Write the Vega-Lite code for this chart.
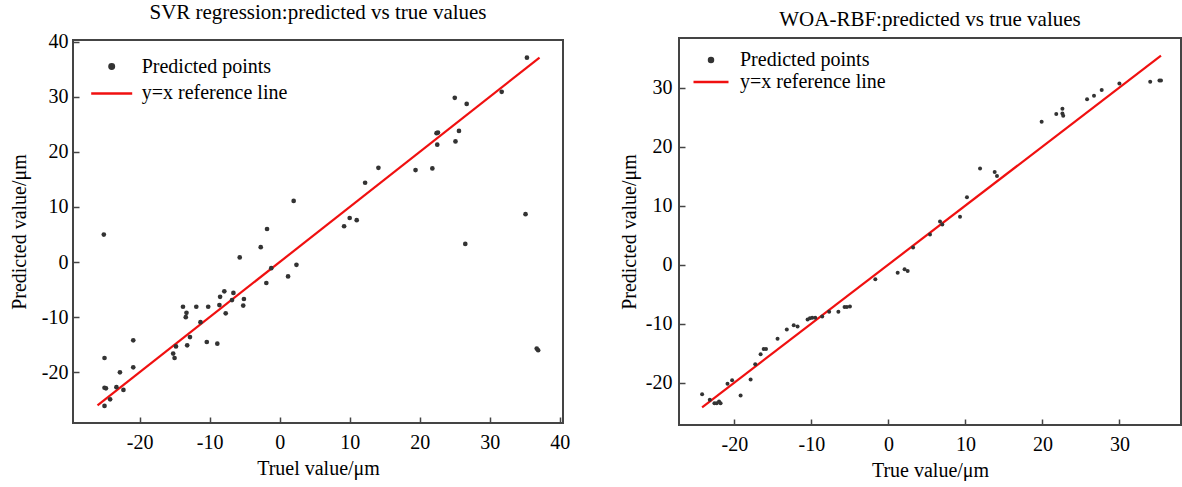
{
  "$schema": "https://vega.github.io/schema/vega-lite/v6.json",
  "background": "white",
  "padding": {"left": 8, "top": 1, "right": 0, "bottom": 0},
  "spacing": 116,
  "bounds": "flush",
  "center": true,
  "config": {
    "view": {"stroke": "#444", "strokeWidth": 2},
    "font": "Liberation Serif",
    "title": {"font": "Liberation Serif", "fontSize": 21, "fontWeight": "normal", "color": "black", "offset": 8.5},
    "axis": {
      "labelFont": "Liberation Serif", "labelFontSize": 20, "labelColor": "black",
      "titleFont": "Liberation Serif", "titleFontSize": 20, "titleFontWeight": "normal", "titleColor": "black",
      "domain": false, "grid": false, "tickColor": "#444", "tickWidth": 1.5, "tickSize": -6,
      "labelExpr": "replace(datum.label, '\u2212', '-')"
    },
    "legend": {"labelFont": "Liberation Serif", "labelFontSize": 20, "labelColor": "black", "padding": 0}
  },
  "datasets": {
    "svr_pts": [
      {"x": -25.1, "y": 5.0}, {"x": 2.0, "y": 11.1}, {"x": -1.8, "y": 6.0}, {"x": -2.7, "y": 2.7}, {"x": -5.7, "y": 0.85},
      {"x": 2.4, "y": -0.5}, {"x": -1.2, "y": -1.1}, {"x": 1.2, "y": -2.6}, {"x": -1.9, "y": -3.8}, {"x": -7.9, "y": -5.3},
      {"x": -6.6, "y": -5.6}, {"x": -8.5, "y": -6.3}, {"x": -6.8, "y": -6.9}, {"x": -5.1, "y": -6.7}, {"x": -5.2, "y": -7.9},
      {"x": -8.6, "y": -7.8}, {"x": -13.8, "y": -8.1}, {"x": -11.9, "y": -8.1}, {"x": -10.2, "y": -8.1}, {"x": -13.3, "y": -9.2},
      {"x": -13.4, "y": -10.0}, {"x": -7.7, "y": -9.3}, {"x": -11.3, "y": -10.9}, {"x": -12.8, "y": -13.6}, {"x": -14.8, "y": -15.3},
      {"x": -13.2, "y": -15.1}, {"x": -10.4, "y": -14.5}, {"x": -8.9, "y": -14.8}, {"x": -15.2, "y": -16.6}, {"x": -15.0, "y": -17.4},
      {"x": -20.9, "y": -14.2}, {"x": -20.9, "y": -19.1}, {"x": -25.0, "y": -17.4}, {"x": -22.8, "y": -20.0}, {"x": -25.0, "y": -22.8},
      {"x": -24.8, "y": -22.9}, {"x": -23.3, "y": -22.7}, {"x": -22.3, "y": -23.2}, {"x": -24.2, "y": -24.9}, {"x": -25.0, "y": -26.1},
      {"x": 35.3, "y": 37.1}, {"x": 31.7, "y": 30.9}, {"x": 25.0, "y": 29.8}, {"x": 26.7, "y": 28.7}, {"x": 22.4, "y": 23.4},
      {"x": 22.6, "y": 23.5}, {"x": 25.6, "y": 23.8}, {"x": 22.5, "y": 21.3}, {"x": 25.1, "y": 21.9}, {"x": 14.1, "y": 17.1},
      {"x": 19.4, "y": 16.7}, {"x": 21.8, "y": 17.0}, {"x": 12.2, "y": 14.4}, {"x": 35.1, "y": 8.7}, {"x": 10.0, "y": 8.0},
      {"x": 11.0, "y": 7.6}, {"x": 9.2, "y": 6.5}, {"x": 26.5, "y": 3.3}, {"x": 36.7, "y": -15.7}, {"x": 36.9, "y": -16.0}
    ],
    "svr_line": [
      {"x": -26.0, "y": -26.0}, {"x": 37.1, "y": 37.1}
    ],
    "woa_pts": [
      {"x": -24.2, "y": -22.0}, {"x": -23.2, "y": -22.9}, {"x": -22.6, "y": -23.5}, {"x": -22.3, "y": -23.5}, {"x": -22.0, "y": -23.2},
      {"x": -21.8, "y": -23.5}, {"x": -20.9, "y": -20.2}, {"x": -20.3, "y": -19.6}, {"x": -19.2, "y": -22.2}, {"x": -17.9, "y": -19.5},
      {"x": -17.3, "y": -16.9}, {"x": -16.6, "y": -15.2}, {"x": -16.2, "y": -14.3}, {"x": -15.9, "y": -14.3}, {"x": -14.4, "y": -12.6},
      {"x": -13.2, "y": -11.0}, {"x": -12.3, "y": -10.3}, {"x": -11.8, "y": -10.5}, {"x": -10.5, "y": -9.3}, {"x": -10.2, "y": -9.1},
      {"x": -9.9, "y": -9.0}, {"x": -9.5, "y": -9.0}, {"x": -8.6, "y": -8.8}, {"x": -7.7, "y": -8.0}, {"x": -6.5, "y": -8.0},
      {"x": -5.7, "y": -7.2}, {"x": -5.4, "y": -7.2}, {"x": -5.0, "y": -7.1}, {"x": -1.7, "y": -2.5}, {"x": 1.2, "y": -1.4},
      {"x": 2.1, "y": -0.8}, {"x": 2.5, "y": -1.1}, {"x": 3.2, "y": 2.9}, {"x": 5.4, "y": 5.1}, {"x": 6.7, "y": 7.3},
      {"x": 7.0, "y": 6.8}, {"x": 9.3, "y": 8.1}, {"x": 10.2, "y": 11.4}, {"x": 11.9, "y": 16.3}, {"x": 13.8, "y": 15.7},
      {"x": 14.1, "y": 15.0}, {"x": 19.9, "y": 24.2}, {"x": 21.8, "y": 25.5}, {"x": 22.6, "y": 26.4}, {"x": 22.6, "y": 25.6},
      {"x": 22.7, "y": 25.2}, {"x": 25.8, "y": 28.0}, {"x": 26.7, "y": 28.6}, {"x": 27.7, "y": 29.6}, {"x": 30.0, "y": 30.7},
      {"x": 34.0, "y": 31.0}, {"x": 35.2, "y": 31.2}, {"x": 35.4, "y": 31.2}
    ],
    "woa_line": [
      {"x": -24.2, "y": -24.2}, {"x": 35.4, "y": 35.4}
    ]
  },
  "resolve": {"scale": {"color": "independent"}, "legend": {"color": "independent"}},
  "hconcat": [
    {
      "title": "SVR regression:predicted vs true values",
      "width": 490,
      "height": 383,
      "layer": [
        {
          "data": {"name": "svr_line"},
          "transform": [{"calculate": "'y=x reference line'", "as": "series"}],
          "mark": {"type": "line", "strokeWidth": 2.2, "clip": true},
          "encoding": {
            "x": {"field": "x", "type": "quantitative", "scale": {"domain": [-29.5, 40.45], "nice": false, "zero": false},
                  "axis": {"title": "Truel value/μm", "values": [-20, -10, 0, 10, 20, 30, 40], "labelPadding": 15, "titlePadding": 6}},
            "y": {"field": "y", "type": "quantitative", "scale": {"domain": [-29.2, 40.3], "nice": false, "zero": false},
                  "axis": {"title": "Predicted value/μm", "values": [-20, -10, 0, 10, 20, 30, 40], "labelPadding": 11, "titlePadding": 11.5}},
            "color": {"field": "series", "type": "nominal",
                      "scale": {"domain": ["Predicted points", "y=x reference line"], "range": ["#333333", "#f01010"]},
                      "legend": {"title": null, "orient": "none", "legendX": 28.7, "legendY": 16.6, "labelOffset": 20, "rowPadding": 6.8,
                                 "encode": {"symbols": {"update": {
                                   "shape": {"signal": "datum.value === 'Predicted points' ? 'circle' : 'M-4.1,0H4.1'"},
                                   "size": {"signal": "datum.value === 'Predicted points' ? 20 : 100"},
                                   "fill": {"signal": "datum.value === 'Predicted points' ? '#333333' : 'transparent'"},
                                   "stroke": {"signal": "datum.value === 'Predicted points' ? 'transparent' : '#f01010'"},
                                   "strokeWidth": {"value": 2.5},
                                   "opacity": {"value": 1}
                                 }}}}}
          }
        },
        {
          "data": {"name": "svr_pts"},
          "transform": [{"calculate": "'Predicted points'", "as": "series"}],
          "mark": {"type": "point", "filled": true, "size": 22, "opacity": 1},
          "encoding": {
            "x": {"field": "x", "type": "quantitative"},
            "y": {"field": "y", "type": "quantitative"},
            "color": {"field": "series", "type": "nominal"}
          }
        }
      ]
    },
    {
      "title": "WOA-RBF:predicted vs true values",
      "width": 502,
      "height": 387,
      "layer": [
        {
          "data": {"name": "woa_line"},
          "transform": [{"calculate": "'y=x reference line'", "as": "series"}],
          "mark": {"type": "line", "strokeWidth": 2.2, "clip": true},
          "encoding": {
            "x": {"field": "x", "type": "quantitative", "scale": {"domain": [-27.2, 38.0], "nice": false, "zero": false},
                  "axis": {"title": "True value/μm", "values": [-20, -10, 0, 10, 20, 30], "labelPadding": 15, "titlePadding": 6}},
            "y": {"field": "y", "type": "quantitative", "scale": {"domain": [-27.2, 38.4], "nice": false, "zero": false},
                  "axis": {"title": "Predicted value/μm", "values": [-20, -10, 0, 10, 20, 30], "labelPadding": 13, "titlePadding": 6}},
            "color": {"field": "series", "type": "nominal",
                      "scale": {"domain": ["Predicted points", "y=x reference line"], "range": ["#333333", "#f01010"]},
                      "legend": {"title": null, "orient": "none", "legendX": 22, "legendY": 11.9, "labelOffset": 19, "rowPadding": 2,
                                 "encode": {"symbols": {"update": {
                                   "shape": {"signal": "datum.value === 'Predicted points' ? 'circle' : 'M-3.5,0H3.5'"},
                                   "size": {"signal": "datum.value === 'Predicted points' ? 16 : 100"},
                                   "fill": {"signal": "datum.value === 'Predicted points' ? '#333333' : 'transparent'"},
                                   "stroke": {"signal": "datum.value === 'Predicted points' ? 'transparent' : '#f01010'"},
                                   "strokeWidth": {"value": 2.5},
                                   "opacity": {"value": 1}
                                 }}}}}
          }
        },
        {
          "data": {"name": "woa_pts"},
          "transform": [{"calculate": "'Predicted points'", "as": "series"}],
          "mark": {"type": "point", "filled": true, "size": 16, "opacity": 1},
          "encoding": {
            "x": {"field": "x", "type": "quantitative"},
            "y": {"field": "y", "type": "quantitative"},
            "color": {"field": "series", "type": "nominal"}
          }
        }
      ]
    }
  ]
}
